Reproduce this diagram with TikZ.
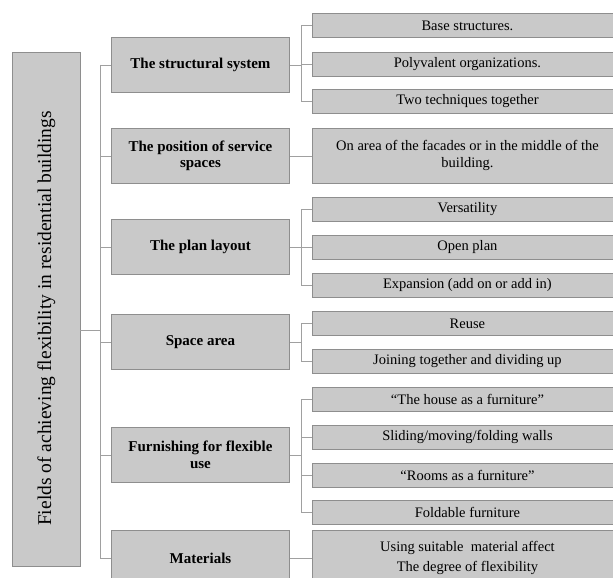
\documentclass[tikz,border=0pt]{standalone}
\usepackage{fontspec}
\setmainfont{Liberation Serif}
\begin{document}
\begin{tikzpicture}[x=1pt,y=-1pt,
  box/.style={draw=boxline,fill=boxfill,line width=0.9pt,inner sep=0pt,anchor=north west},
  lvl/.style={box,minimum width=178pt,minimum height=55pt,font=\fontsize{15}{16.5}\selectfont\bfseries,align=center},
  leaf/.style={box,minimum width=310pt,minimum height=24pt,font=\fontsize{14.5}{16}\selectfont,align=center},
  wire/.style={draw=wireline,line width=0.8pt}]
\definecolor{boxfill}{HTML}{C9C9C9}
\definecolor{boxline}{HTML}{8E8E8E}
\definecolor{wireline}{HTML}{A0A0A0}
\clip (0,0) rectangle (613,578);
\useasboundingbox (0,0) rectangle (613,578);
\fill[white] (0,0) rectangle (613,578);
% root
\node[box,minimum width=68pt,minimum height=514pt] (root) at (12,52) {};
\node[rotate=90,font=\fontsize{19.5}{21}\selectfont] (roottext) at ([yshift=-9pt]root.center) {Fields of achieving flexibility in residential buildings};
% level 1
\node[lvl] (a) at (111,37) {The structural system};
\node[lvl] (b) at (111,128) {The position of service\\spaces};
\node[lvl] (c) at (111,219) {The plan layout};
\node[lvl] (d) at (111,314) {Space area};
\node[lvl] (e) at (111,427) {Furnishing for flexible\\use};
\node[lvl] (f) at (111,530) {Materials};
% leaves
\node[leaf] (a1) at (312,13) {Base structures.};
\node[leaf] (a2) at (312,52) {Polyvalent organizations.};
\node[leaf] (a3) at (312,89) {Two techniques together};
\node[leaf,minimum height=55pt] (b1) at (312,128) {On area of the facades or in the middle of the\\[1pt]building.};
\node[leaf] (c1) at (312,197) {Versatility};
\node[leaf] (c2) at (312,235) {Open plan};
\node[leaf] (c3) at (312,273) {Expansion (add on or add in)};
\node[leaf] (d1) at (312,311) {Reuse};
\node[leaf] (d2) at (312,349) {Joining together and dividing up};
\node[leaf] (e1) at (312,387) {``The house as a furniture''};
\node[leaf] (e2) at (312,425) {Sliding/moving/folding walls};
\node[leaf] (e3) at (312,463) {``Rooms as a furniture''};
\node[leaf] (e4) at (312,500) {Foldable furniture};
\node[leaf,minimum height=55pt] (f1) at (312,530) {Using suitable\ \ material affect\\[4pt]The degree of\ flexibility};
% connectors root -> level 1
\coordinate (bus) at (100,0);
\coordinate (rootout) at (80,330);
\draw[wire] (rootout) -- (rootout -| bus);
\foreach \n in {a,b,c,d,e,f}{
  \draw[wire] (\n.west) -- (\n.west -| bus);
}
\draw[wire] (a.west -| bus) -- (f.west -| bus);
% level 1 -> leaves
\coordinate (rb) at (301,0);
\foreach \p/\list in {a/{a1,a2,a3},c/{c1,c2,c3},d/{d1,d2},e/{e1,e2,e3,e4}}{
  \draw[wire] (\p.east) -- (\p.east -| rb);
  \foreach \q in \list { \draw[wire] (\q.west) -- (\q.west -| rb); }
}
\draw[wire] (a1.west -| rb) -- (a3.west -| rb);
\draw[wire] (c1.west -| rb) -- (c3.west -| rb);
\draw[wire] (d1.west -| rb) -- (d2.west -| rb);
\draw[wire] (e1.west -| rb) -- (e4.west -| rb);
\draw[wire] (b.east) -- (b1.west);
\draw[wire] (f.east) -- (f1.west);
\end{tikzpicture}
\end{document}
